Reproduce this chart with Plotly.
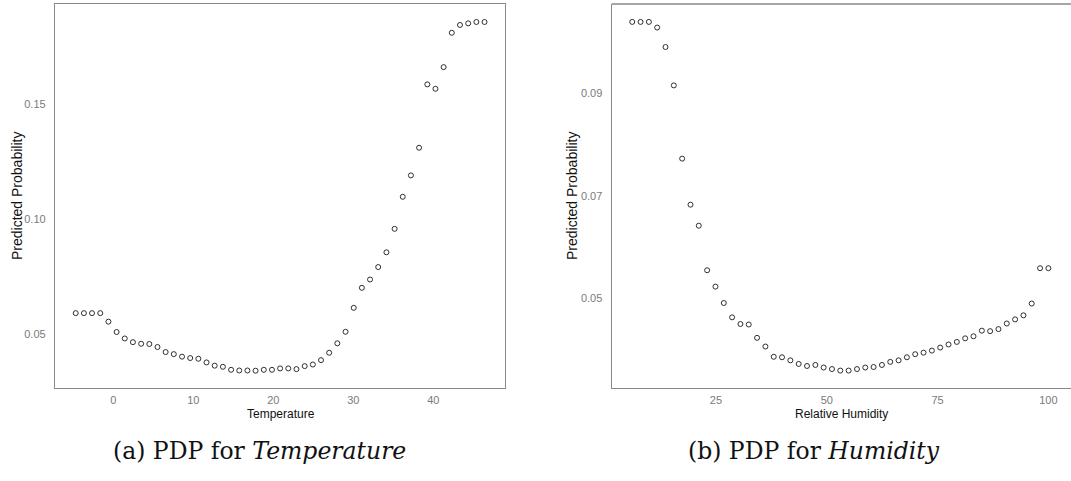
import plotly.graph_objects as go

# Partial dependence of predicted probability on temperature
temperature = [-4.70, -3.68, -2.66, -1.63, -0.61, 0.41, 1.43, 2.45, 3.48, 4.50,
               5.52, 6.54, 7.56, 8.59, 9.61, 10.63, 11.65, 12.67, 13.70, 14.72,
               15.74, 16.76, 17.78, 18.81, 19.83, 20.85, 21.87, 22.89, 23.92, 24.94,
               25.96, 26.98, 28.00, 29.03, 30.05, 31.07, 32.09, 33.11, 34.14, 35.16,
               36.18, 37.20, 38.22, 39.25, 40.27, 41.29, 42.31, 43.33, 44.36, 45.38,
               46.40]
temp_prob = [0.0593, 0.0593, 0.0593, 0.0593, 0.0556, 0.0511, 0.0483, 0.0467, 0.0460, 0.0459,
             0.0446, 0.0424, 0.0415, 0.0404, 0.0398, 0.0395, 0.0379, 0.0365, 0.0360, 0.0347,
             0.0344, 0.0344, 0.0343, 0.0347, 0.0347, 0.0353, 0.0353, 0.0350, 0.0363, 0.0370,
             0.0389, 0.0421, 0.0462, 0.0512, 0.0616, 0.0703, 0.0739, 0.0793, 0.0857, 0.0959,
             0.1098, 0.1191, 0.1311, 0.1586, 0.1567, 0.1661, 0.1810, 0.1844, 0.1851, 0.1857,
             0.1857]

# Partial dependence of predicted probability on relative humidity
humidity = [6.10, 7.98, 9.86, 11.73, 13.61, 15.49, 17.37, 19.25, 21.12, 23.00,
            24.88, 26.76, 28.64, 30.51, 32.39, 34.27, 36.15, 38.03, 39.90, 41.78,
            43.66, 45.54, 47.42, 49.29, 51.17, 53.05, 54.93, 56.81, 58.68, 60.56,
            62.44, 64.32, 66.20, 68.07, 69.95, 71.83, 73.71, 75.59, 77.46, 79.34,
            81.22, 83.10, 84.98, 86.85, 88.73, 90.61, 92.49, 94.37, 96.24, 98.12,
            100.00]
hum_prob = [0.1040, 0.1040, 0.1040, 0.1029, 0.0991, 0.0916, 0.0773, 0.0683, 0.0642, 0.0555,
            0.0523, 0.0491, 0.0463, 0.0450, 0.0449, 0.0423, 0.0406, 0.0386, 0.0385, 0.0379,
            0.0372, 0.0368, 0.0370, 0.0365, 0.0362, 0.0359, 0.0359, 0.0362, 0.0365, 0.0366,
            0.0370, 0.0376, 0.0379, 0.0385, 0.0391, 0.0394, 0.0398, 0.0404, 0.0410, 0.0415,
            0.0422, 0.0426, 0.0437, 0.0436, 0.0440, 0.0451, 0.0459, 0.0467, 0.0490, 0.0559,
            0.0559]

temp_ticks = [0, 10, 20, 30, 40]
temp_prob_ticks = [0.05, 0.10, 0.15]
hum_ticks = [25, 50, 75, 100]
hum_prob_ticks = [0.05, 0.07, 0.09]

W, H = 1071, 481
BORDER = "#888888"
TICK_COLOR = "#7a7a7a"
SANS = "Arial, Liberation Sans, sans-serif"
SERIF = "DejaVu Serif, Liberation Serif, serif"

marker = dict(symbol="circle-open", size=5, color="#1a1a1a", line=dict(width=0.9, color="#1a1a1a"))

fig = go.Figure()
fig.add_trace(go.Scatter(x=temperature, y=temp_prob, mode="markers", marker=marker,
                         xaxis="x", yaxis="y", showlegend=False))
fig.add_trace(go.Scatter(x=humidity, y=hum_prob, mode="markers", marker=marker,
                         xaxis="x2", yaxis="y2", showlegend=False))

y_dom = [1 - 388 / H, 1 - 4 / H]
left_dom = [55 / W, 505 / W]
right_dom = [611.7 / W, 1.0]

axis_common = dict(showgrid=False, zeroline=False, ticks="", showline=True,
                   linecolor=BORDER, linewidth=1.3,
                   tickfont=dict(family=SANS, size=11, color=TICK_COLOR))
x_extra = dict(ticklabelstandoff=2)
y_extra = dict(ticklabelstandoff=6)

fig.update_layout(
    width=W, height=H,
    margin=dict(l=0, r=0, t=0, b=0),
    paper_bgcolor="white", plot_bgcolor="white",
    xaxis=dict(domain=left_dom, range=[-7.29, 48.96], tickvals=temp_ticks,
               anchor="y", mirror=True, **axis_common, **x_extra),
    yaxis=dict(domain=y_dom, range=[0.0268, 0.1935], tickvals=temp_prob_ticks,
               tickformat=".2f", anchor="x", mirror=True, **axis_common, **y_extra),
    xaxis2=dict(domain=right_dom, range=[1.47, 105.1], tickvals=hum_ticks,
                anchor="y2", **axis_common, **x_extra),
    yaxis2=dict(domain=y_dom, range=[0.0325, 0.1075], tickvals=hum_prob_ticks,
                tickformat=".2f", anchor="x2", **axis_common, **y_extra),
)

# top border of the humidity panel
fig.add_shape(type="line", xref="paper", yref="paper",
              x0=right_dom[0], x1=1.0, y0=y_dom[1], y1=y_dom[1],
              line=dict(color=BORDER, width=1.3))

def px_x(v):
    return v / W

def px_y(v):
    return 1 - v / H

# axis titles
xtitle_font = dict(family=SANS, size=12, color="#111111")
ytitle_font = dict(family=SANS, size=14, color="#111111")
fig.add_annotation(text="Temperature", x=px_x(281), y=px_y(414), xref="paper", yref="paper",
                   showarrow=False, font=xtitle_font, xanchor="center", yanchor="middle")
fig.add_annotation(text="Relative Humidity", x=px_x(841), y=px_y(414), xref="paper", yref="paper",
                   showarrow=False, font=xtitle_font, xanchor="center", yanchor="middle")
fig.add_annotation(text="Predicted Probability", x=px_x(17), y=px_y(196), xref="paper", yref="paper",
                   showarrow=False, font=ytitle_font, textangle=-90, xanchor="center", yanchor="middle")
fig.add_annotation(text="Predicted Probability", x=px_x(572), y=px_y(196), xref="paper", yref="paper",
                   showarrow=False, font=ytitle_font, textangle=-90, xanchor="center", yanchor="middle")

# subfigure captions
cap_font = dict(family=SERIF, size=23.5, color="#111111")
fig.add_annotation(text="(a) PDP for <i>Temperature</i>", x=px_x(259), y=px_y(451),
                   xref="paper", yref="paper", showarrow=False, font=cap_font,
                   xanchor="center", yanchor="middle")
fig.add_annotation(text="(b) PDP for <i>Humidity</i>", x=px_x(814), y=px_y(451),
                   xref="paper", yref="paper", showarrow=False, font=cap_font,
                   xanchor="center", yanchor="middle")

fig.write_html("out.html")
